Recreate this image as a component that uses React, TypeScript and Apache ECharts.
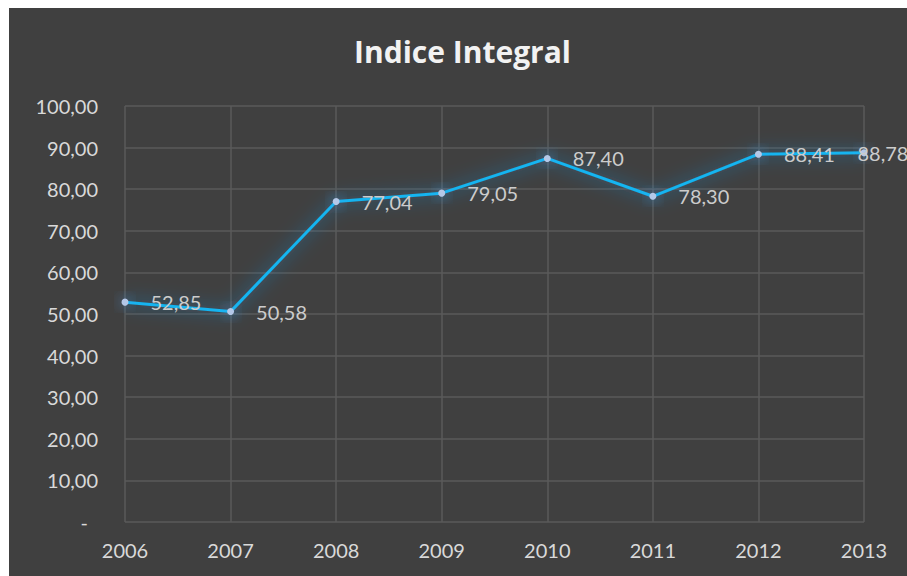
import React, { useEffect, useRef } from "react";
import * as echarts from "echarts";

const titleText = "Indice Integral";
const years = ["2006", "2007", "2008", "2009", "2010", "2011", "2012", "2013"];
const indiceValues = [52.85, 50.58, 77.04, 79.05, 87.4, 78.3, 88.41, 88.78];
const yTicks = { min: 0, max: 100, interval: 10 };

const fmt = (v: number) => v.toFixed(2).replace(".", ",");

export default function App() {
  const ref = useRef<HTMLDivElement>(null);
  useEffect(() => {
    if (!ref.current) return;
    const chart = echarts.init(ref.current, null, { renderer: "svg" });
    const font = "Lato, 'Open Sans', sans-serif";
    const data = indiceValues.map((v, i) =>
      i === indiceValues.length - 1
        ? { value: v, label: { offset: [-32, 0] } }
        : { value: v }
    );
    chart.setOption({
      animation: false,
      backgroundColor: "#404040",
      title: {
        text: titleText,
        left: 340,
        top: 23,
        textStyle: { color: "#f2f2f2", fontSize: 30, fontWeight: "bold", fontFamily: "'Open Sans', sans-serif" },
      },
      grid: { left: 116, right: 43, top: 98, bottom: 54 },
      xAxis: {
        type: "category",
        data: years,
        boundaryGap: false,
        axisLine: { show: false },
        axisTick: { show: false },
        axisLabel: { color: "#d9d9d9", fontSize: 20, fontFamily: font, margin: 18 },
        splitLine: { show: true, lineStyle: { color: "#5a5a5a", width: 1.5 } },
      },
      yAxis: {
        type: "value",
        min: yTicks.min,
        max: yTicks.max,
        interval: yTicks.interval,
        axisLine: { show: false },
        axisTick: { show: false },
        axisLabel: {
          color: "#d9d9d9",
          fontSize: 20,
          fontFamily: font,
          margin: 27,
          formatter: (v: number) => (v === 0 ? "{d|-}" : fmt(v)),
          rich: { d: { color: "#d9d9d9", fontSize: 20, fontFamily: font, padding: [0, 10, 0, 0] } },
        },
        splitLine: { lineStyle: { color: "#5a5a5a", width: 1.5 } },
      },
      series: [
        {
          type: "line",
          data,
          symbol: "circle",
          symbolSize: 7,
          itemStyle: {
            color: "#b4c8e8",
            shadowColor: "rgba(80,170,255,1)",
            shadowBlur: 14,
          },
          lineStyle: {
            color: "#12b4f0",
            width: 3,
            shadowColor: "rgba(40,150,240,0.85)",
            shadowBlur: 18,
          },
          label: {
            show: true,
            position: "right",
            distance: 22,
            color: "#cccccc",
            fontSize: 20,
            fontFamily: font,
            formatter: (p: any) => fmt(p.value),
          },
        },
      ],
    });
    return () => chart.dispose();
  }, []);
  return (
    <div
      ref={ref}
      style={{ position: "fixed", left: 9, top: 8, width: 898, height: 568 }}
    />
  );
}
